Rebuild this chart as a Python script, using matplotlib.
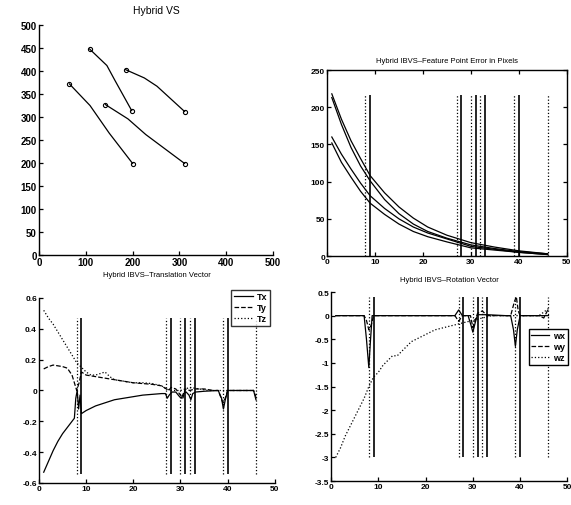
import numpy as np
import matplotlib.pyplot as plt

plt.rcParams['font.family'] = ['Liberation Sans', 'DejaVu Sans']
plt.rcParams['font.weight'] = 'bold'

# image-plane trajectories of the four feature points (u, v)
traj_u = [
    [65, 109, 150, 200],
    [108, 145, 162, 198],
    [142, 190, 228, 311],
    [185, 225, 252, 311],
]
traj_v = [
    [372, 325, 265, 199],
    [448, 412, 380, 314],
    [327, 296, 262, 199],
    [403, 385, 367, 312],
]

# feature point error in pixels
err_t = [1, 3, 5, 7, 9, 12, 15, 18, 21, 25, 30, 35, 40, 46]
err_a = [218, 184, 155, 131, 108, 85, 66, 51, 39, 28, 18, 12, 7, 3]
err_b = [213, 177, 146, 121, 101, 76, 57, 43, 33, 24, 15, 10, 6, 3]
err_c = [160, 137, 117, 98, 81, 64, 50, 39, 31, 23, 13, 9, 5, 2]
err_d = [152, 126, 106, 87, 71, 56, 43, 33, 26, 19, 11, 8, 5, 2]

# controller switching instants
switch_dotted = [8, 27, 30, 32, 39, 46]
switch_solid = [9, 28, 31, 33, 40]

# translation vector
tx_t = [1, 2, 3, 4, 5, 6, 7, 7.5, 7.8, 8.1, 8.4, 8.7, 9, 10, 12, 14, 16, 18, 20, 22,
        24, 26, 26.8, 27.2, 27.6, 28.2, 29, 29.8, 30.2, 30.6, 31.2, 31.8, 32.2, 32.6,
        33.2, 35, 38, 38.7, 39.1, 39.5, 40, 42, 44, 45.5, 46]
tx = [-0.53, -0.46, -0.39, -0.33, -0.28, -0.24, -0.20, -0.18, -0.05, 0.0, -0.12, -0.03,
      -0.15, -0.13, -0.10, -0.08, -0.06, -0.05, -0.04, -0.03, -0.025, -0.02, -0.02, -0.05,
      -0.03, -0.01, -0.01, -0.04, -0.05, -0.02, -0.01, -0.03, -0.06, -0.02, -0.01, -0.005,
      0.0, -0.05, -0.12, -0.06, 0.0, 0.0, 0.0, 0.0, -0.06]
ty_t = [1, 2, 3, 4, 5, 6, 7, 7.5, 8, 8.5, 9, 10, 12, 14, 16, 18, 20, 22, 24, 26, 27, 27.5,
        28, 29, 30, 30.5, 31, 32, 33, 35, 37, 38, 39, 39.5, 40, 42, 44, 45.5, 46]
ty = [0.14, 0.155, 0.165, 0.16, 0.155, 0.145, 0.10, 0.05, 0.0, 0.05, 0.12, 0.10, 0.09,
      0.08, 0.07, 0.06, 0.05, 0.045, 0.04, 0.03, 0.01, 0.0, 0.02, 0.01, -0.03, -0.05, 0.01,
      0.0, 0.01, 0.01, 0.0, 0.0, -0.08, -0.05, 0.0, 0.0, 0.0, 0.0, -0.04]
tz_t = [1, 2, 3, 4, 5, 6, 7, 8, 9, 10, 11, 12, 13, 14, 15, 16, 18, 20, 22, 24, 26, 27, 28,
        30, 32, 34, 36, 38, 40, 42, 44, 46]
tz = [0.52, 0.47, 0.43, 0.38, 0.33, 0.28, 0.23, 0.18, 0.15, 0.12, 0.10, 0.10, 0.11, 0.12,
      0.09, 0.07, 0.06, 0.05, 0.05, 0.045, 0.03, 0.01, 0.0, 0.0, 0.02, 0.01, 0.0, 0.0, 0.0,
      0.0, 0.0, 0.0]

# rotation vector
wx_t = [1, 5, 7, 7.5, 8, 8.3, 8.7, 9, 15, 20, 26.2, 27, 27.8, 29, 29.6, 30, 30.5, 31, 33,
        37, 38, 38.6, 39, 39.4, 40, 45, 46]
wx = [0, 0, 0, -0.5, -1.1, -0.6, 0.0, 0, 0, 0, 0, 0.12, 0, 0, -0.2, -0.35, -0.15, 0.02,
      0.02, 0, 0, -0.3, -0.65, -0.3, 0, 0, 0]
wy_t = [1, 7, 7.5, 8, 8.5, 9, 26.2, 27, 27.8, 29.5, 30, 30.5, 31, 32, 33, 38, 38.8, 39.2,
        39.6, 40, 44, 45, 46]
wy = [0, 0, -0.1, -0.3, -0.2, 0, 0, -0.12, 0, 0, -0.25, -0.1, 0.05, 0.1, 0, 0, 0.3, 0.4,
      0.1, 0, 0, -0.05, 0.15]
wz_t = [1, 2, 3, 4, 5, 6, 7, 8, 9, 10, 11, 12, 13, 14, 15, 16, 17, 18, 19, 20, 22, 24, 26,
        28, 30, 32, 34, 38, 44, 46]
wz = [-3.0, -2.8, -2.55, -2.35, -2.15, -1.95, -1.75, -1.5, -1.3, -1.2, -1.05, -0.95, -0.85,
      -0.85, -0.75, -0.65, -0.55, -0.5, -0.45, -0.4, -0.3, -0.25, -0.2, -0.15, -0.1, -0.05,
      0, 0, 0, 0.15]

lw = 0.9
tick_kw = dict(direction='in', length=3, width=0.9, labelsize=6, pad=1.5)


def style(ax, box=False):
    for s in ['top', 'right']:
        ax.spines[s].set_visible(box)
    for s in ax.spines.values():
        s.set_linewidth(1.0)
    ax.tick_params(**tick_kw)
    if box:
        ax.tick_params(top=True, right=True)


def draw_switches(ax, lo, hi):
    ax.vlines(switch_dotted, lo, hi, colors='k', linestyles=':', lw=lw)
    ax.vlines(switch_solid, lo, hi, colors='k', linestyles='-', lw=1.2)


fig = plt.figure(figsize=(5.71, 5.06), dpi=100)

# image-plane trajectories
ax1 = fig.add_axes([0.0683, 0.494, 0.410, 0.4545])
for u, v in zip(traj_u, traj_v):
    ax1.plot(u, v, 'k-', lw=lw)
    ax1.plot([u[0], u[-1]], [v[0], v[-1]], 'ko', mfc='none', ms=3, mew=0.8)
ax1.set_xlim(0, 500)
ax1.set_ylim(0, 500)
ax1.set_xticks(range(0, 501, 100))
ax1.set_yticks(range(0, 501, 50))
style(ax1)
ax1.tick_params(labelsize=7)
ax1.set_title('Hybrid VS', fontsize=7.5, fontweight='normal', pad=9)

# feature point error
ax2 = fig.add_axes([0.5727, 0.492, 0.42, 0.3676])
for e in [err_a, err_b, err_c, err_d]:
    ax2.plot(err_t, e, 'k-', lw=lw)
draw_switches(ax2, 0, 217)
ax2.set_xlim(0, 50)
ax2.set_ylim(0, 250)
ax2.set_xticks(range(0, 51, 10))
ax2.set_yticks(range(0, 251, 50))
style(ax2, box=True)
ax2.set_title('Hybrid IBVS\u2013Feature Point Error in Pixels', fontsize=5.5, pad=6)

# translation vector
ax3 = fig.add_axes([0.0683, 0.0435, 0.413, 0.3656])
ax3.plot(tx_t, tx, 'k-', lw=lw, label='Tx')
ax3.plot(ty_t, ty, 'k--', lw=lw, label='Ty')
ax3.plot(tz_t, tz, 'k:', lw=lw, label='Tz')
draw_switches(ax3, -0.54, 0.47)
ax3.set_xlim(0, 50)
ax3.set_ylim(-0.6, 0.6)
ax3.set_xticks(range(0, 51, 10))
ax3.set_yticks(np.arange(-0.6, 0.61, 0.2))
ax3.set_yticklabels(['-0.6', '-0.4', '-0.2', '0', '0.2', '0.4', '0.6'])
style(ax3)
ax3.set_title('Hybrid IBVS\u2013Translation Vector', fontsize=5.5, pad=16)
ax3.legend(loc='upper right', bbox_to_anchor=(1.0, 1.07), fontsize=6.5, frameon=True,
           fancybox=False, edgecolor='k', handlelength=2.2, handletextpad=0.4,
           borderpad=0.3, labelspacing=0.2).get_frame().set_linewidth(1.0)

# rotation vector
ax4 = fig.add_axes([0.5797, 0.0474, 0.414, 0.3735])
ax4.plot(wx_t, wx, 'k-', lw=lw, label='wx')
ax4.plot(wy_t, wy, 'k--', lw=lw, label='wy')
ax4.plot(wz_t, wz, 'k:', lw=lw, label='wz')
draw_switches(ax4, -3.0, 0.4)
ax4.set_xlim(0, 50)
ax4.set_ylim(-3.5, 0.5)
ax4.set_xticks(range(0, 51, 10))
ax4.set_yticks(np.arange(-3.5, 0.51, 0.5))
ax4.set_yticklabels(['-3.5', '-3', '-2.5', '-2', '-1.5', '-1', '-0.5', '0', '0.5'])
style(ax4)
ax4.set_title('Hybrid IBVS\u2013Rotation Vector', fontsize=5.5, pad=8)
leg = ax4.legend(loc='upper right', bbox_to_anchor=(1.02, 0.83), fontsize=6.5, frameon=True,
                 fancybox=False, edgecolor='k', handlelength=2.0, handletextpad=0.4,
                 borderpad=0.3, labelspacing=0.2, framealpha=1)
leg.get_frame().set_linewidth(1.0)

fig.savefig('out.png', dpi=100)
